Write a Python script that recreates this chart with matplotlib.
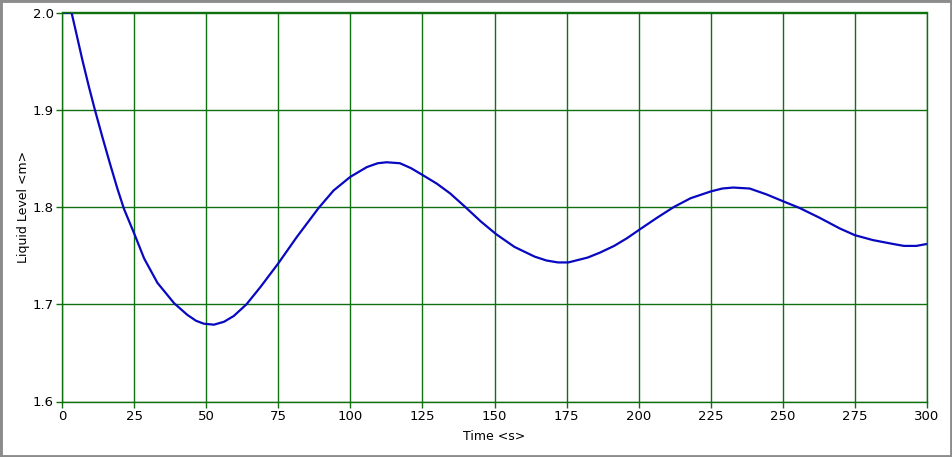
import numpy as np
import matplotlib.pyplot as plt
from matplotlib.patches import Rectangle

# values
time_s=[0,3.3,4.7,7.0,9.3,11.4,14.0,16.6,19.2,21.5,25,28.5,33.1,38.9,43.5,46.5,49.2,52.7,56.2,59.6,64.0,
        68.9,75,81.4,89,94.2,100,105.7,109.5,112.6,117.2,121,125,130,134.6,139.5,145.3,150.6,156.9,163.9,168,172,
        175.6,182.3,186.5,191.5,196,200.4,206.4,212.2,218,225,229,232.8,238.5,244.3,250,255.8,262.7,269.7,275,
        281.2,288.2,292,296.3,300]
level_m=[2.0,2.0,1.982,1.952,1.924,1.900,1.872,1.845,1.819,1.798,1.773,1.747,1.722,1.701,1.689,1.683,1.680,1.679,1.682,1.688,1.700,
         1.718,1.742,1.769,1.799,1.817,1.831,1.841,1.845,1.846,1.845,1.840,1.833,1.824,1.814,1.801,1.785,1.772,1.759,1.749,1.745,1.743,
         1.743,1.748,1.753,1.760,1.768,1.777,1.789,1.800,1.809,1.816,1.819,1.820,1.819,1.813,1.806,1.799,1.789,1.778,1.771,
         1.766,1.762,1.760,1.760,1.762]
x_ticks=[0,25,50,75,100,125,150,175,200,225,250,275,300]
y_ticks=[1.6,1.7,1.8,1.9,2.0]

grid_col='#107010'
fig=plt.figure(figsize=(9.52,4.57),dpi=100)
fig.patches.append(Rectangle((0,0),1,1,transform=fig.transFigure,fill=False,edgecolor='#8c8c8c',linewidth=3.5))
ax=fig.add_axes([62/952,1-401.5/457,865/952,389/457])
ax.plot(time_s,level_m,color='#0808c0',linewidth=1.6,solid_joinstyle='round')
ax.set_xlim(0,300)
ax.set_ylim(1.6,2.0)
ax.set_xticks(x_ticks)
ax.set_yticks(y_ticks)
ax.set_yticklabels(['%.1f'%v for v in y_ticks])
ax.grid(True,color=grid_col,linewidth=1)
for s in ax.spines.values():
    s.set_color(grid_col)
    s.set_linewidth(1)
ax.tick_params(colors=grid_col,labelcolor='black',labelsize=9.5,length=4,width=1,pad=2)
ax.set_xlabel('Time <s>',fontsize=9,labelpad=5)
ax.set_ylabel('Liquid Level <m>',fontsize=9,labelpad=2)
fig.savefig('out.png',dpi=100)
